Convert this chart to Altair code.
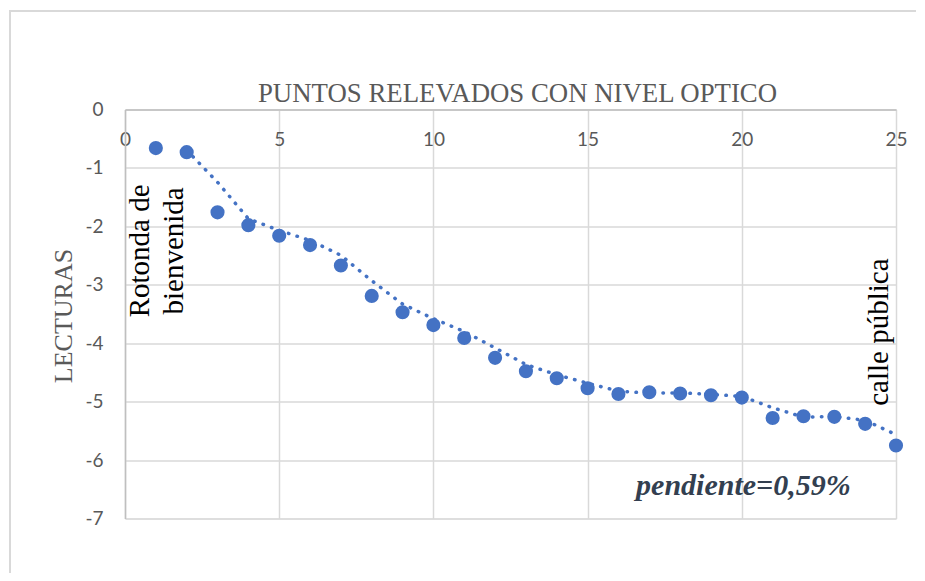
import altair as alt
import pandas as pd

# ---- data ----
puntos = list(range(1, 26))
lecturas = [-0.66, -0.73, -1.76, -1.98, -2.16, -2.32, -2.67, -3.19, -3.47, -3.69,
            -3.91, -4.25, -4.48, -4.60, -4.77, -4.87, -4.84, -4.86, -4.89, -4.93,
            -5.28, -5.25, -5.26, -5.38, -5.75]
x_ticks = [0, 5, 10, 15, 20, 25]
y_ticks = [0, -1, -2, -3, -4, -5, -6, -7]

ann_side_text = [["Rotonda de", "bienvenida"], ["calle pública"]]
ann_side_x = [0.49, 24.45]
ann_side_y = [-2.42, -3.81]

pend_text = ["pendiente=0,59%"]
pend_x = [20.05]
pend_y = [-6.45]

title_text = "PUNTOS RELEVADOS CON NIVEL OPTICO"
y_title = "LECTURAS"

W, H = 771, 409
BLUE = "#4472C4"
GREY = "#595959"

df = pd.DataFrame({"punto": puntos, "lectura": lecturas})
df_side = pd.DataFrame({"x": ann_side_x, "y": ann_side_y, "t": ann_side_text})
df_pend = pd.DataFrame({"x": pend_x, "y": pend_y, "t": pend_text})

xscale = alt.Scale(domain=[0, 25], nice=False, zero=False)
yscale = alt.Scale(domain=[-7, 0], nice=False, zero=False)

x_axis = alt.Axis(values=x_ticks, orient="bottom", offset=-H, ticks=False,
                  domain=True, domainColor="#BFBFBF", domainWidth=1.5,
                  labelPadding=21, labelFont="Lato", labelFontSize=19,
                  labelColor=GREY, labelFlush=False,
                  labelExpr="'' + datum.value",
                  grid=True, gridColor="#D9D9D9", gridWidth=1.5, title=None)
y_axis = alt.Axis(values=y_ticks, orient="left", ticks=False,
                  domain=True, domainColor="#BFBFBF", domainWidth=1.5,
                  labelPadding=22, labelFont="Lato", labelFontSize=19,
                  labelColor=GREY, labelFlush=False,
                  labelExpr="'' + datum.value",
                  grid=True, gridColor="#D9D9D9", gridWidth=1.5,
                  title=y_title, titleFont="Liberation Serif", titleFontSize=26,
                  titleFontWeight="normal", titleColor=GREY, titleAngle=270,
                  titleAlign="center", titleBaseline="middle",
                  titleX=-62, titleY=206)

base = alt.Chart(df)

points = base.mark_point(filled=True, size=200, color=BLUE, opacity=1).encode(
    x=alt.X("punto:Q", scale=xscale, axis=x_axis),
    y=alt.Y("lectura:Q", scale=yscale, axis=y_axis),
)

trend = base.transform_window(
    media="mean(lectura)", n="count()", frame=[-1, 0],
    sort=[alt.SortField("punto")]
).transform_filter("datum.n == 2").mark_line(
    color=BLUE, strokeWidth=3.5, strokeDash=[0.5, 8.5], strokeCap="round"
).encode(
    x=alt.X("punto:Q", scale=xscale),
    y=alt.Y("media:Q", scale=yscale),
)

side = alt.Chart(df_side).mark_text(
    font="Liberation Serif", fontSize=29, color="black", angle=270,
    align="center", baseline="middle", lineHeight=34
).encode(
    x=alt.X("x:Q", scale=xscale), y=alt.Y("y:Q", scale=yscale), text="t"
)

pend = alt.Chart(df_pend).mark_text(
    font="Liberation Serif", fontSize=30, fontWeight="bold", fontStyle="italic",
    color="#333F50", align="center", baseline="middle"
).encode(
    x=alt.X("x:Q", scale=xscale), y=alt.Y("y:Q", scale=yscale), text="t:N"
)

border = alt.Chart(df).mark_rect(
    fill=None, stroke="#D9D9D9", strokeWidth=1.5, clip=False
).encode(
    x=alt.value(-115), x2=alt.value(830), y=alt.value(-98.5), y2=alt.value(520)
)

chart = alt.layer(border, trend, points, side, pend).properties(
    width=W, height=H,
    title=alt.Title(title_text, font="Liberation Serif", fontSize=26.8,
                    fontWeight="normal", color=GREY, frame="group",
                    anchor="middle", dx=7, dy=125, offset=6, baseline="alphabetic"),
    autosize=alt.AutoSizeParams(type="none"),
    padding={"left": 117, "top": 101.5, "right": 20, "bottom": 54},
).configure_view(stroke=None).configure(background="white")

chart.save("out.html", embed_options={"renderer": "svg", "actions": False})
